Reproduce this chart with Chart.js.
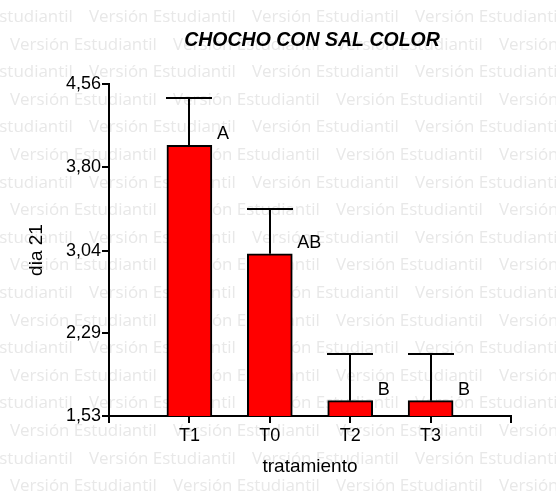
<!DOCTYPE html>
<html>
<head>
<meta charset="utf-8">
<script src="https://cdn.jsdelivr.net/npm/chart.js@4"></script>
<style>
  html, body { margin: 0; padding: 0; background: #fff; }
  #wrap { width: 556px; height: 500px; }
</style>
</head>
<body>
<div id="wrap"><canvas id="c" width="556" height="500"></canvas></div>
<script>
// Data
const categories = ['T1', 'T0', 'T2', 'T3'];
const means = [4.00, 3.01, 1.67, 1.67];
const errorsUp = [0.43, 0.41, 0.43, 0.43];
const groupLetters = ['A', 'AB', 'B', 'B'];
const yTickLabels = ['1,53', '2,29', '3,04', '3,80', '4,56'];
const chartTitle = 'CHOCHO CON SAL COLOR';
const xTitle = 'tratamiento';
const yTitle = 'dia 21';
const watermarkText = 'Versión Estudiantil';

const yTickValues = yTickLabels.map(s => parseFloat(s.replace(',', '.')));
// an empty slot on each side lets the category axis run past the outer bars
const labels = [''].concat(categories, ['']);
const values = [null].concat(means, [null]);
const errors = [null].concat(errorsUp, [null]);
const letters = [''].concat(groupLetters, ['']);

const FONT = '"Liberation Sans", Arial, sans-serif';

// light repeated text behind the plot
const watermark = {
  id: 'watermark',
  beforeDraw(chart) {
    const ctx = chart.ctx;
    ctx.save();
    ctx.fillStyle = '#ffffff';
    ctx.fillRect(0, 0, chart.width, chart.height);
    ctx.font = '16px "Open Sans", sans-serif';
    const w = ctx.measureText(watermarkText).width;
    const size = 16 * 147 / w;
    ctx.font = size.toFixed(2) + 'px "Open Sans", sans-serif';
    ctx.fillStyle = '#e8e8e8';
    ctx.textBaseline = 'alphabetic';
    ctx.textAlign = 'left';
    for (let k = 0; k < 19; k++) {
      const y = 22 + 27.6 * k;
      let x = (k % 2 === 0) ? -74 : 10;
      for (; x < chart.width; x += 163) ctx.fillText(watermarkText, x, y);
    }
    ctx.restore();
  }
};

// title centred over the plot area
const plotTitle = {
  id: 'plotTitle',
  afterDraw(chart) {
    const ctx = chart.ctx;
    const a = chart.chartArea;
    ctx.save();
    ctx.font = 'italic bold 19.5px ' + FONT;
    ctx.fillStyle = '#000';
    ctx.textAlign = 'center';
    ctx.textBaseline = 'middle';
    ctx.fillText(chartTitle, (a.left + a.right) / 2 + 2, 41);
    ctx.restore();
  }
};

// upward error whiskers and group letters
const whiskers = {
  id: 'whiskers',
  afterDatasetsDraw(chart) {
    const ctx = chart.ctx;
    const yScale = chart.scales.y;
    const meta = chart.getDatasetMeta(0);
    ctx.save();
    ctx.strokeStyle = '#000';
    ctx.lineWidth = 2;
    meta.data.forEach((bar, i) => {
      if (values[i] == null) return;
      const x = Math.round(bar.x);
      const yTop = Math.round(yScale.getPixelForValue(values[i] + errors[i]));
      const yBar = bar.y;
      const half = 23;
      ctx.beginPath();
      ctx.moveTo(x, yBar);
      ctx.lineTo(x, yTop);
      ctx.moveTo(x - half, yTop);
      ctx.lineTo(x + half, yTop);
      ctx.stroke();
      ctx.font = '18px ' + FONT;
      ctx.fillStyle = '#000';
      ctx.textAlign = 'left';
      ctx.textBaseline = 'alphabetic';
      ctx.fillText(letters[i], bar.x + 22.5 + 5, yBar - 6);
    });
    ctx.restore();
  }
};

new Chart(document.getElementById('c'), {
  type: 'bar',
  data: {
    labels: labels,
    datasets: [{
      data: values,
      backgroundColor: '#ff0000',
      borderColor: '#000000',
      borderWidth: 2,
      borderSkipped: false,
      barThickness: 45
    }]
  },
  options: {
    responsive: false,
    animation: false,
    devicePixelRatio: 1,
    layout: { padding: { top: 84, right: 45, bottom: 0, left: 0 } },
    plugins: {
      legend: { display: false },
      tooltip: { enabled: false },
      title: { display: false }
    },
    scales: {
      x: {
        type: 'category',
        offset: false,
        grid: {
          offset: false,
          display: true,
          drawOnChartArea: false,
          drawTicks: true,
          tickLength: 7,
          color: '#000',
          lineWidth: 2
        },
        border: { display: true, color: '#000', width: 2 },
        ticks: {
          color: '#000',
          font: { family: FONT, size: 18 },
          padding: 2,
          autoSkip: false,
          maxRotation: 0
        },
        title: {
          display: true,
          text: xTitle,
          color: '#000',
          font: { family: FONT, size: 19 },
          padding: { top: 0, bottom: 22 }
        },
        afterFit(s) { s.height = 84; }
      },
      y: {
        type: 'linear',
        min: yTickValues[0],
        max: yTickValues[yTickValues.length - 1],
        afterBuildTicks(s) { s.ticks = yTickValues.map(v => ({ value: v })); },
        grid: {
          display: true,
          drawOnChartArea: false,
          drawTicks: true,
          tickLength: 7,
          color: '#000',
          lineWidth: 2
        },
        border: { display: true, color: '#000', width: 2 },
        ticks: {
          color: '#000',
          font: { family: FONT, size: 18 },
          padding: 1,
          callback: (v, i) => yTickLabels[i]
        },
        title: {
          display: true,
          text: yTitle,
          color: '#000',
          font: { family: FONT, size: 19 },
          padding: { top: 25, bottom: 0 }
        },
        afterFit(s) { s.width = 109; }
      }
    }
  },
  plugins: [watermark, plotTitle, whiskers]
});
</script>
</body>
</html>
